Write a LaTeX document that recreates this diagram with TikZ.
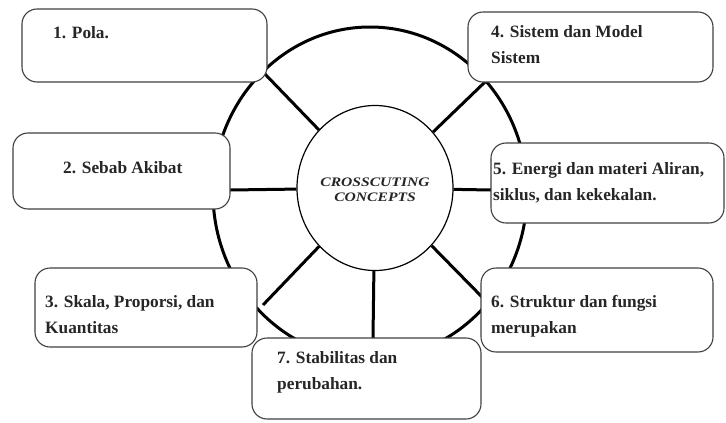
\documentclass[tikz,border=0pt]{standalone}
\usepackage{fontspec}
\setmainfont{Liberation Serif}
\usepackage{graphicx}
\usetikzlibrary{shapes.geometric}
\begin{document}
\begin{tikzpicture}[x=1pt,y=-1pt,
  box/.style={draw=black!75, line width=1.1pt, rounded corners=15pt, fill=white, inner sep=0pt},
  spoke/.style={line width=3pt, black},
  lbl/.style={font=\fontsize{17.3}{26.5}\selectfont\bfseries, text=black!85, anchor=base west, align=left, inner sep=0pt},
  ctr/.style={font=\fontsize{13}{15.5}\selectfont\bfseries\itshape, text=black!85, align=center, inner sep=0pt}]
\useasboundingbox (0,0) rectangle (726,423);
% outer ring
\draw[spoke] (370,193) ellipse [x radius=157pt, y radius=166pt];
% inner circle
\node[ellipse, draw, line width=1.2pt, fill=white, minimum width=156pt, minimum height=165pt, inner sep=0pt] (inner) at (375,188) {};
\node[ctr] (ct) at (375,190) {\scalebox{1.2}[1]{CROSSCUTING}\\\scalebox{1.2}[1]{CONCEPTS}};
% spoke ends
\coordinate (o1) at (263,72);
\coordinate (o2) at (230,190);
\coordinate (o3) at (263,305);
\coordinate (o4) at (373,338);
\coordinate (o5) at (483,298);
\coordinate (o6) at (491,190);
\coordinate (o7) at (485,82);
\foreach \i in {1,...,7} {\draw[spoke] (o\i) -- (inner);}
% boxes
\node[box, minimum width=245pt, minimum height=73pt] (b1) at (144.5,45.5) {};
\node[box, minimum width=217pt, minimum height=76pt] (b2) at (121.5,171) {};
\node[box, minimum width=222pt, minimum height=79pt] (b3) at (146,307.5) {};
\node[box, minimum width=245pt, minimum height=70pt] (b4) at (590.5,47) {};
\node[box, minimum width=233pt, minimum height=80pt] (b5) at (607.5,183) {};
\node[box, minimum width=232pt, minimum height=84pt] (b6) at (597,310) {};
\node[box, minimum width=229pt, minimum height=81pt] (b7) at (366.5,378.5) {};
% labels (base anchor = baseline of last line)
\node[lbl] (t1) at (53,38.5) {1. Pola.};
\node[lbl] (t2) at (63,173.5) {2. Sebab Akibat};
\node[lbl] (t3) at (45,333.5) {3. Skala, Proporsi, dan\\Kuantitas};
\node[lbl] (t4) at (491,63.5) {4. Sistem dan Model\\Sistem};
\node[lbl] (t5) at (493,200.5) {5. Energi dan materi Aliran,\\siklus, dan kekekalan.};
\node[lbl] (t6) at (491,333.5) {6. Struktur dan fungsi\\merupakan};
\node[lbl] (t7) at (277,389.5) {7. Stabilitas dan\\perubahan.};
\end{tikzpicture}
\end{document}
